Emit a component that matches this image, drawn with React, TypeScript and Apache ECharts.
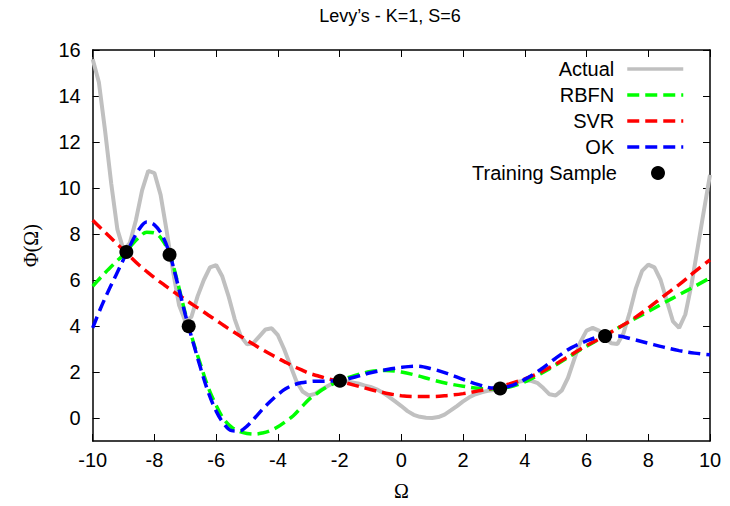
import React, { useEffect, useRef } from "react";
import * as echarts from "echarts";

const xTicks = [-10, -8, -6, -4, -2, 0, 2, 4, 6, 8, 10];
const yTicks = [0, 2, 4, 6, 8, 10, 12, 14, 16];

const actualX = [
  -10, -9.8, -9.6, -9.4, -9.2, -9, -8.8, -8.6, -8.4, -8.2, -8, -7.8, -7.6, -7.4, -7.2, -7, -6.8, -6.6, -6.4, -6.2,
  -6, -5.8, -5.6, -5.4, -5.2, -5, -4.8, -4.6, -4.4, -4.2, -4, -3.8, -3.6, -3.4, -3.2, -3, -2.8, -2.6, -2.4, -2.2,
  -2, -1.8, -1.6, -1.4, -1.2, -1, -0.8, -0.6, -0.4, -0.2, 0, 0.2, 0.4, 0.6, 0.8, 1, 1.2, 1.4, 1.6, 1.8,
  2, 2.2, 2.4, 2.6, 2.8, 3, 3.2, 3.4, 3.6, 3.8, 4, 4.2, 4.4, 4.6, 4.8, 5, 5.2, 5.4, 5.6, 5.8,
  6, 6.2, 6.4, 6.6, 6.8, 7, 7.2, 7.4, 7.6, 7.8, 8, 8.2, 8.4, 8.6, 8.8, 9, 9.2, 9.4, 9.6, 9.8, 10,
];
const actualY = [
  15.6, 14.6, 12.5, 10.2, 8.2, 7.3, 7.6, 8.6, 9.9, 10.75, 10.65, 9.7, 8.1, 6.4, 4.9, 4.2, 4.4, 5.3, 6.0, 6.55,
  6.65, 6.15, 5.3, 4.3, 3.55, 3.2, 3.25, 3.55, 3.85, 3.9, 3.6, 3.0, 2.3, 1.6, 1.15, 0.98, 1.05, 1.22, 1.38, 1.52,
  1.6, 1.6, 1.55, 1.5, 1.42, 1.35, 1.25, 1.1, 0.92, 0.72, 0.52, 0.3, 0.14, 0.05, 0.01, 0.0, 0.04, 0.15, 0.33, 0.52,
  0.72, 0.9, 1.03, 1.12, 1.18, 1.22, 1.28, 1.37, 1.48, 1.58, 1.63, 1.62, 1.53, 1.3, 1.03, 0.98, 1.2, 1.75, 2.55, 3.3,
  3.8, 3.92, 3.8, 3.5, 3.25, 3.22, 3.7, 4.6, 5.65, 6.4, 6.67, 6.55, 6.0, 5.1, 4.2, 3.92, 4.5, 5.8, 7.4, 9.0, 10.57,
];

const modelX = [
  -10, -9.75, -9.5, -9.25, -9, -8.75, -8.5, -8.25, -8, -7.75, -7.5, -7.25, -7, -6.75, -6.5, -6.25, -6, -5.75, -5.5, -5.25,
  -5, -4.75, -4.5, -4.25, -4, -3.75, -3.5, -3.25, -3, -2.75, -2.5, -2.25, -2, -1.5, -1, -0.5, 0, 0.5, 1, 1.5,
  2, 2.5, 3, 3.5, 4, 4.5, 5, 5.5, 6, 6.5, 7, 7.5, 8, 8.5, 9, 9.5, 10,
];
const rbfnY = [
  5.73, 6.1, 6.45, 6.78, 7.1, 7.5, 7.85, 8.08, 8.05, 7.75, 7.1, 5.9, 4.55, 3.35, 2.3, 1.3, 0.55, -0.05, -0.4, -0.58,
  -0.67, -0.7, -0.65, -0.55, -0.38, -0.15, 0.1, 0.45, 0.8, 1.05, 1.28, 1.46, 1.62, 1.85, 2.02, 2.07, 2.0, 1.85, 1.66, 1.5,
  1.38, 1.29, 1.26, 1.35, 1.57, 1.92, 2.3, 2.72, 3.12, 3.5, 3.9, 4.27, 4.63, 5.0, 5.36, 5.72, 6.09,
];
const svrY = [
  8.6, 8.27, 7.95, 7.62, 7.3, 6.97, 6.65, 6.37, 6.1, 5.85, 5.6, 5.37, 5.15, 4.92, 4.7, 4.47, 4.25, 4.02, 3.8, 3.59,
  3.38, 3.17, 2.97, 2.78, 2.6, 2.42, 2.25, 2.1, 1.95, 1.85, 1.75, 1.67, 1.6, 1.42, 1.24, 1.08, 0.97, 0.93, 0.93, 0.98,
  1.06, 1.18, 1.3, 1.48, 1.7, 1.98, 2.35, 2.75, 3.15, 3.5, 3.9, 4.3, 4.78, 5.3, 5.8, 6.35, 6.88,
];
const okY = [
  3.92, 4.75, 5.5, 6.2, 6.9, 7.6, 8.2, 8.52, 8.4, 7.95, 7.1, 5.85, 4.5, 3.3, 2.15, 1.1, 0.3, -0.25, -0.55, -0.57,
  -0.35, 0.0, 0.38, 0.72, 1.02, 1.27, 1.43, 1.53, 1.58, 1.6, 1.6, 1.61, 1.63, 1.78, 1.97, 2.1, 2.2, 2.25, 2.13, 1.93,
  1.68, 1.45, 1.3, 1.38, 1.68, 2.1, 2.6, 3.05, 3.35, 3.55, 3.57, 3.42, 3.25, 3.08, 2.93, 2.82, 2.75,
];

const sampleX = [-8.91, -7.51, -6.89, -1.99, 3.2, 6.6];
const sampleY = [7.22, 7.1, 3.99, 1.62, 1.28, 3.56];

const seriesNames = ["Actual", "RBFN", "SVR", "OK", "Training Sample"];
const seriesColors = ["#c0c0c0", "#00ff00", "#ff0000", "#0000ff", "#000000"];

const SANS = "'Liberation Sans', Arial, Helvetica, sans-serif";
const SERIF = "'Liberation Serif', 'DejaVu Serif', serif";

const zip = (xs: number[], ys: number[]) => xs.map((x, i) => [x, ys[i]]);

export default function App() {
  const ref = useRef<HTMLDivElement>(null);
  useEffect(() => {
    if (!ref.current) return;
    const chart = echarts.init(ref.current, undefined, { renderer: "svg" });
    const axisLine = { show: true, onZero: false, lineStyle: { color: "#000", width: 1.5 } };
    const axisTick = { show: true, inside: true, length: 7, lineStyle: { color: "#000", width: 1 } };
    const dash = [12, 6];
    const rowCenters = [69, 95, 121, 147, 173];
    chart.setOption({
      animation: false,
      backgroundColor: "#fff",
      title: {
        text: "Levy\u2019s - K=1, S=6",
        left: 385,
        top: 2,
        textAlign: "center",
        textStyle: { fontFamily: SANS, fontSize: 18, fontWeight: "normal", color: "#000" },
      },
      legend: seriesNames.map((n, i) => ({
        data: [n],
        orient: "vertical",
        right: i < 4 ? 45 : 65,
        top: rowCenters[i] - 10,
        padding: 0,
        align: "right",
        itemWidth: 56,
        itemHeight: 14,
        selectedMode: false,
        itemStyle: i < 4 ? { opacity: 0 } : { opacity: 1, color: "#000" },
        lineStyle: i < 4 ? { width: 3.5, type: i === 0 ? "solid" : dash } : undefined,
        textStyle: { fontFamily: SANS, fontSize: 20, color: "#000", lineHeight: 20, padding: [0, 8, 0, 0] },
      })),
      grid: { left: 92.7, right: 20, top: 50, bottom: 64.3, containLabel: false },
      xAxis: [
        {
          type: "value",
          min: -10,
          max: 10,
          interval: 2,
          position: "bottom",
          axisLine,
          axisTick: { ...axisTick, customValues: xTicks },
          axisLabel: { customValues: xTicks, margin: 9, fontFamily: SANS, fontSize: 20, color: "#000" },
          splitLine: { show: false },
          name: "\u03A9",
          nameLocation: "middle",
          nameGap: 40,
          nameTextStyle: { fontFamily: SERIF, fontSize: 20, color: "#000" },
        },
        {
          type: "value",
          min: -10,
          max: 10,
          interval: 2,
          position: "top",
          axisLine,
          axisTick: { ...axisTick, customValues: xTicks },
          axisLabel: { show: false },
          splitLine: { show: false },
        },
      ],
      yAxis: [
        {
          type: "value",
          min: -1,
          max: 16,
          position: "left",
          axisLine,
          axisTick: { ...axisTick, customValues: yTicks },
          axisLabel: { customValues: yTicks, margin: 12, fontFamily: SANS, fontSize: 20, color: "#000" },
          splitLine: { show: false },
          name: "\u03A6(\u03A9)",
          nameLocation: "middle",
          nameGap: 52,
          nameRotate: 90,
          nameTextStyle: { fontFamily: SERIF, fontSize: 20, color: "#000" },
        },
        {
          type: "value",
          min: -1,
          max: 16,
          position: "right",
          axisLine,
          axisTick: { ...axisTick, customValues: yTicks },
          axisLabel: { show: false },
          splitLine: { show: false },
        },
      ],
      series: [
        {
          name: seriesNames[0],
          type: "line",
          data: zip(actualX, actualY),
          symbol: "none",
          smooth: false,
          lineStyle: { color: seriesColors[0], width: 4 },
          itemStyle: { color: seriesColors[0] },
          z: 1,
        },
        {
          name: seriesNames[1],
          type: "line",
          data: zip(modelX, rbfnY),
          symbol: "none",
          smooth: 0.35,
          lineStyle: { color: seriesColors[1], width: 3.5, type: dash },
          itemStyle: { color: seriesColors[1] },
          z: 2,
        },
        {
          name: seriesNames[2],
          type: "line",
          data: zip(modelX, svrY),
          symbol: "none",
          smooth: 0.35,
          lineStyle: { color: seriesColors[2], width: 3.5, type: dash },
          itemStyle: { color: seriesColors[2] },
          z: 3,
        },
        {
          name: seriesNames[3],
          type: "line",
          data: zip(modelX, okY),
          symbol: "none",
          smooth: 0.35,
          lineStyle: { color: seriesColors[3], width: 3.5, type: dash },
          itemStyle: { color: seriesColors[3] },
          z: 4,
        },
        {
          name: seriesNames[4],
          type: "scatter",
          data: zip(sampleX, sampleY),
          symbol: "circle",
          symbolSize: 14,
          itemStyle: { color: seriesColors[4], opacity: 1 },
          z: 5,
        },
      ],
    });
    return () => chart.dispose();
  }, []);
  return <div ref={ref} style={{ position: "fixed", left: 0, top: 0, width: 730, height: 506 }} />;
}
